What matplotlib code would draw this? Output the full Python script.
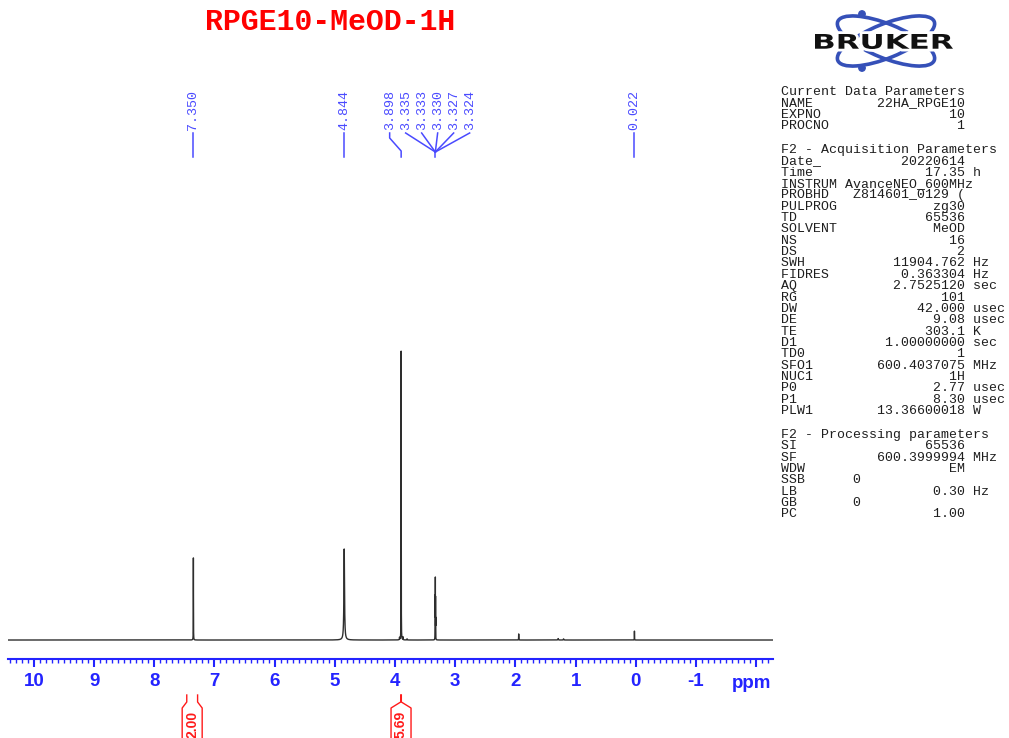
import numpy as np
import matplotlib
matplotlib.use("Agg")
import matplotlib.pyplot as plt
from matplotlib.patches import Ellipse, Circle, PathPatch
from matplotlib.textpath import TextPath
from matplotlib.font_manager import FontProperties
from matplotlib.transforms import Affine2D, blended_transform_factory
from matplotlib.ticker import FixedLocator, MultipleLocator

plt.rcParams['axes.unicode_minus'] = False

# ---- spectrum data (ppm, relative intensity, half width in ppm) ----
peak_ppm = [7.350, 4.844, 3.898, 3.335, 3.333, 3.330, 3.327, 3.324, 0.022]
peak_height = [0.284, 0.315, 1.000, 0.066, 0.132, 0.198, 0.132, 0.066, 0.031]
peak_hw = [0.0012, 0.0060, 0.0012, 0.0008, 0.0008, 0.0008, 0.0008, 0.0008, 0.0012]

# small unlabelled signals
minor_ppm = [3.925, 3.870, 3.80, 1.945, 1.29, 1.20]
minor_height = [0.008, 0.010, 0.004, 0.021, 0.005, 0.004]
minor_hw = [0.002, 0.002, 0.003, 0.0015, 0.004, 0.004]

# peak-label groups: labels that share one connector fan
label_groups = [[7.350], [4.844], [3.898, 3.335, 3.333, 3.330, 3.327, 3.324], [0.022]]

# integrals: (start ppm, end ppm, value)
integ_start = [7.46, 3.905]
integ_end = [7.28, 3.895]
integ_value = ["2.00", "5.69"]

ppm_left, ppm_right = 10.43, -2.28

par_current = [("NAME", "22HA_RPGE10", ""), ("EXPNO", "10", ""), ("PROCNO", "1", "")]
par_acq = [("Date_", "20220614", ""), ("Time", "17.35", "h"),
           ("INSTRUM", "AvanceNEO_600MHz", ""), ("PROBHD", "Z814601_0129 (", ""),
           ("PULPROG", "zg30", ""), ("TD", "65536", ""), ("SOLVENT", "MeOD", ""),
           ("NS", "16", ""), ("DS", "2", ""), ("SWH", "11904.762", "Hz"),
           ("FIDRES", "0.363304", "Hz"), ("AQ", "2.7525120", "sec"), ("RG", "101", ""),
           ("DW", "42.000", "usec"), ("DE", "9.08", "usec"), ("TE", "303.1", "K"),
           ("D1", "1.00000000", "sec"), ("TD0", "1", ""), ("SFO1", "600.4037075", "MHz"),
           ("NUC1", "1H", ""), ("P0", "2.77", "usec"), ("P1", "8.30", "usec"),
           ("PLW1", "13.36600018", "W")]
par_proc = [("SI", "65536", ""), ("SF", "600.3999994", "MHz"), ("WDW", "EM", ""),
            ("SSB", "0", ""), ("LB", "0.30", "Hz"), ("GB", "0", ""), ("PC", "1.00", "")]

BLUE = '#2424ff'
LBLUE = '#4a4aff'
RED = '#ff1a1a'
MONO = 'Liberation Mono'
SANS = 'Liberation Sans'

fig = plt.figure(figsize=(10.09, 7.38), dpi=100)

# pixel overlay for annotations
ov = fig.add_axes([0, 0, 1, 1])
ov.set_xlim(0, 1009)
ov.set_ylim(738, 0)
ov.axis('off')
ov.patch.set_visible(False)

# spectrum axes
W, H = 1009.0, 738.0
ax = fig.add_axes([8 / W, (H - 659) / H, (773 - 8) / W, (659 - 160) / H])
ax.patch.set_visible(False)

x = np.linspace(ppm_left, ppm_right, 65536)
y = np.zeros_like(x)
for p, h, w in zip(peak_ppm + minor_ppm, peak_height + minor_height, peak_hw + minor_hw):
    y += h * w**2 / ((x - p)**2 + w**2)
ax.plot(x, y, color='#2e2e2e', lw=1.0)

ax.set_xlim(ppm_left, ppm_right)
ax.set_ylim(-0.0657, 1.661)
for s in ['top', 'left', 'right']:
    ax.spines[s].set_visible(False)
ax.spines['bottom'].set_color(BLUE)
ax.spines['bottom'].set_linewidth(1.5)
ax.set_yticks([])
major = list(range(-2, 11))
ax.xaxis.set_major_locator(FixedLocator(major))
ax.set_xticklabels(['' if t == -2 else str(t) for t in major])
ax.xaxis.set_minor_locator(MultipleLocator(0.1))
ax.tick_params(axis='x', which='major', direction='out', length=6, width=1.5,
               color=BLUE, labelcolor=BLUE, pad=4, labelsize=13.5)
ax.tick_params(axis='x', which='minor', direction='out', length=3, width=1, color=BLUE)
for lab in ax.get_xticklabels():
    lab.set_fontfamily(SANS)
    lab.set_fontweight('bold')
ov.text(752, 683, 'ppm', color=BLUE, fontsize=13.5, fontweight='bold',
        family=SANS, ha='center', va='center')

# peak labels with connectors
tr = blended_transform_factory(ax.transData, ov.transData)
spacing = 16 / 60.2
for grp in label_groups:
    n = len(grp)
    centre = np.mean(grp)
    for i, p in enumerate(grp):
        lx = centre + ((n - 1) / 2 - i) * spacing
        ax.text(lx, 130, f"{p:.3f}", transform=tr, rotation=90, ha='center', va='bottom',
                family=MONO, fontsize=9.6, color=LBLUE, clip_on=False)
        if n == 1:
            xs, ys = [p, p], [133, 157]
        elif i == 0:
            xs, ys = [lx, lx, p, p], [133, 138, 151, 157]
        else:
            xs, ys = [lx, 3.330], [133, 152]
        ax.plot(xs, ys, transform=tr, color=LBLUE, lw=1.1, clip_on=False)
ax.plot([3.330, 3.330], [152, 157], transform=tr, color=LBLUE, lw=1.1, clip_on=False)

# integral labels under the axis
half = 10 / 60.2
for a, b, v in zip(integ_start, integ_end, integ_value):
    c = (a + b) / 2
    for e, side in ((a, 1), (b, -1)):
        ax.plot([e, e, c + side * half, c + side * half], [695, 702, 708, 740],
                transform=tr, color=RED, lw=1.0, clip_on=False)
    ax.text(c, 724, v, transform=tr, rotation=90, ha='center', va='center',
            family=SANS, fontweight='bold', fontsize=10, color=RED, clip_on=False)

# title
ov.text(330, 22, 'RPGE10-MeOD-1H', color='#ff0000', family=MONO, fontweight='bold',
        fontsize=21.5, ha='center', va='center')

# logo
for ang in (22, -22):
    ov.add_patch(Ellipse((886, 41), 104, 34, angle=ang, fill=False,
                         edgecolor='#3550b8', lw=2.6))
ov.add_patch(Circle((862, 14), 3.2, color='#3550b8'))
ov.add_patch(Circle((862, 68), 3.2, color='#3550b8'))
tp = TextPath((0, 0), 'BRUKER', size=1, prop=FontProperties(family='DejaVu Sans', weight='bold'))
ext = tp.get_extents()
tf = Affine2D().translate(-ext.x0, -ext.y0).scale(138 / ext.width, -15 / ext.height).translate(815, 49)
ov.add_patch(PathPatch(tp, transform=tf + ov.transData, facecolor='white', edgecolor='white', lw=4))
ov.add_patch(PathPatch(tp, transform=tf + ov.transData, facecolor='#111111', edgecolor='none'))

# acquisition / processing parameter listing
def row_text(name, val, unit):
    if name in ('SSB', 'GB'):
        return name.ljust(9) + val
    pad = max(23 - len(name) - len(val), 1)
    s = name + ' ' * pad + val
    if unit:
        s += ' ' + unit
    return s

lines = []
yy = 92
step = 11.35
lines.append((yy, 'Current Data Parameters'))
for r in par_current:
    yy += step
    lines.append((yy, row_text(*r)))
yy = 150
lines.append((yy, 'F2 - Acquisition Parameters'))
for r in par_acq:
    yy += step
    lines.append((yy, row_text(*r)))
yy = 435
lines.append((yy, 'F2 - Processing parameters'))
for r in par_proc:
    yy += step
    lines.append((yy, row_text(*r)))
for ly, s in lines:
    ov.text(781, ly, s, family=MONO, fontsize=9.5, color='#1e1e1e', ha='left', va='center')

fig.savefig('out.png', dpi=100)
